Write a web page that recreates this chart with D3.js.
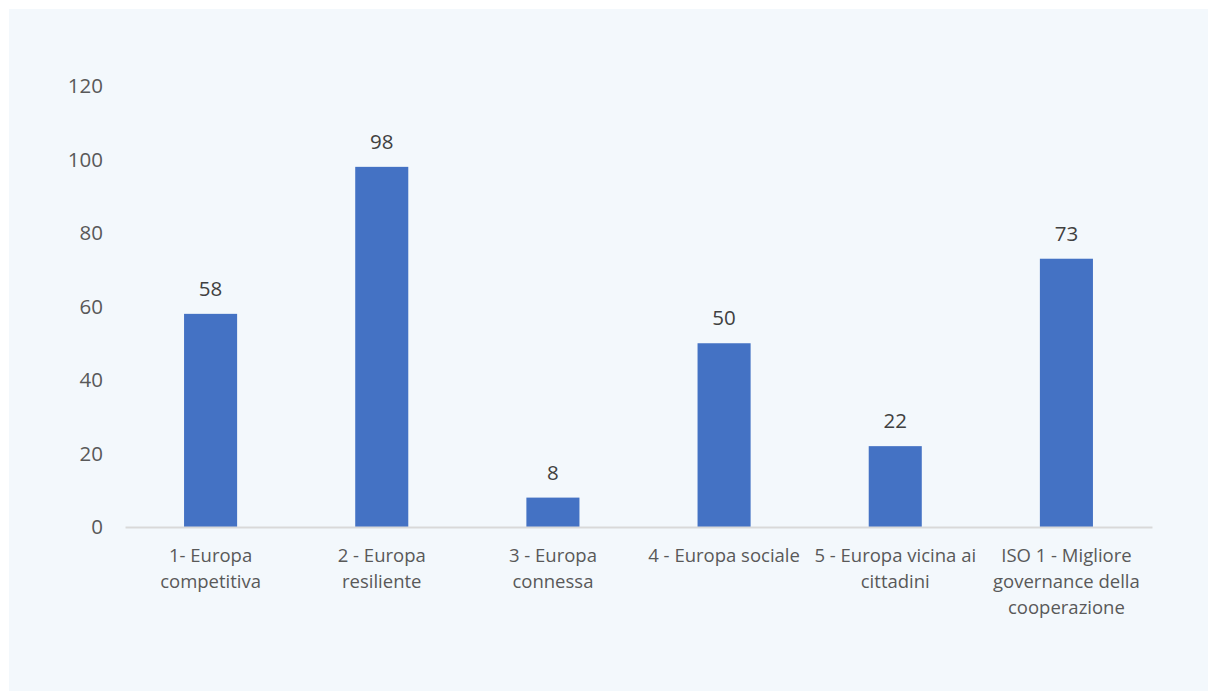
<!DOCTYPE html>
<html>
<head>
<meta charset="utf-8">
<script src="https://cdn.jsdelivr.net/npm/d3@7"></script>
<style>
  html, body { margin: 0; padding: 0; background: #ffffff; }
  svg { display: block; }
  text { font-family: "Open Sans", "Noto Sans", sans-serif; fill: #595959; }
</style>
</head>
<body>
<svg id="chart" width="1208" height="693"></svg>
<script>
// Category labels (each inner array is one wrapped label)
const categories = [
  ["1- Europa", "competitiva"],
  ["2 - Europa", "resiliente"],
  ["3 - Europa", "connessa"],
  ["4 - Europa sociale"],
  ["5 - Europa vicina ai", "cittadini"],
  ["ISO 1 - Migliore", "governance della", "cooperazione"]
];
const values = [58, 98, 8, 50, 22, 73];
const yTicks = [0, 20, 40, 60, 80, 100, 120];

const svg = d3.select("#chart");
const W = 1208, H = 693;

// Panel background
svg.append("rect")
  .attr("x", 9).attr("y", 9)
  .attr("width", W - 9).attr("height", H - 11)
  .attr("fill", "#f3f8fc");

const plot = { left: 125, right: 1152, top: 86, bottom: 527 };

const x = d3.scaleBand()
  .domain(d3.range(categories.length))
  .range([plot.left, plot.right])
  .paddingInner(0).paddingOuter(0);

const y = d3.scaleLinear()
  .domain([0, 120])
  .range([plot.bottom, plot.top]);

const barW = x.bandwidth() * 0.31;

// Y axis tick labels (no axis line, no gridlines)
const yAxis = d3.axisLeft(y).tickValues(yTicks).tickSize(0).tickPadding(0);
const gy = svg.append("g")
  .attr("transform", `translate(${plot.left - 22},0)`)
  .call(yAxis);
gy.select(".domain").remove();
gy.selectAll("text")
  .attr("font-size", 20.5)
  .attr("font-family", "'Open Sans', sans-serif")
  .attr("fill", "#595959");

// Bars
svg.append("g").selectAll("rect")
  .data(values)
  .join("rect")
  .attr("x", (d, i) => x(i) + (x.bandwidth() - barW) / 2)
  .attr("y", d => y(d))
  .attr("width", barW)
  .attr("height", d => y(0) - y(d))
  .attr("fill", "#4472c4");

// X axis baseline
const xAxis = d3.axisBottom(x).tickSize(0).tickFormat("");
const gx = svg.append("g")
  .attr("transform", `translate(0,${plot.bottom})`)
  .call(xAxis);
gx.select(".domain").attr("stroke", "#d9d9d9").attr("stroke-width", 2);

// Wrapped category labels
const labels = svg.append("g").selectAll("text")
  .data(categories)
  .join("text")
  .attr("text-anchor", "middle")
  .attr("font-size", 18.5)
  .attr("transform", (d, i) => `translate(${x(i) + x.bandwidth() / 2},${plot.bottom + 35})`);
labels.selectAll("tspan")
  .data(d => d)
  .join("tspan")
  .attr("x", 0)
  .attr("y", (d, j) => j * 26)
  .text(d => d);

// Value labels above bars
svg.append("g").selectAll("text")
  .data(values)
  .join("text")
  .attr("text-anchor", "middle")
  .attr("font-size", 20.5)
  .style("fill", "#404040")
  .attr("x", (d, i) => x(i) + x.bandwidth() / 2)
  .attr("y", d => y(d) - 18)
  .text(d => d);
</script>
</body>
</html>
